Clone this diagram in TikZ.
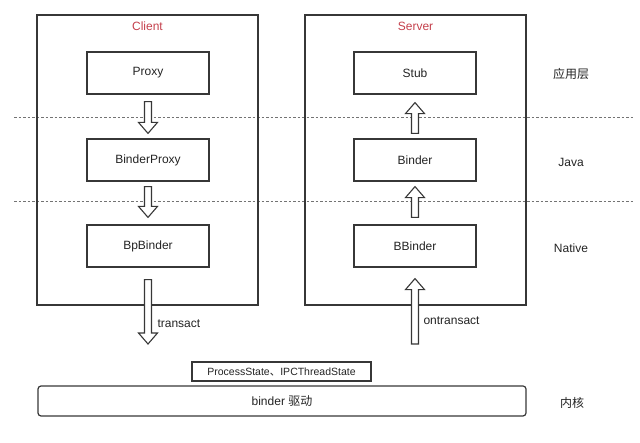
\documentclass[tikz,border=0pt]{standalone}
\usepackage{fontspec}
\setmainfont{Liberation Sans}
\newfontfamily\cjk{Noto Sans CJK SC}
\usetikzlibrary{calc}

\definecolor{linegray}{RGB}{55,55,55}
\definecolor{textgray}{RGB}{35,35,35}
\definecolor{labelred}{RGB}{196,64,76}

\begin{document}
\begin{tikzpicture}[
            x=1pt, y=-1pt,
            every node/.style={text=textgray, font=\fontsize{12}{14}\selectfont},
            outerbox/.style={draw=linegray, line width=1.2pt, minimum width=221pt, minimum height=290pt},
            layerbox/.style={draw=linegray, line width=1.2pt, minimum width=122pt, minimum height=42pt},
            hollow/.style={draw=linegray, fill=white, line width=1.1pt, line join=miter},
            layerline/.style={draw=black!55, line width=1pt, dash pattern=on 2.5pt off 2pt}
        ]
            \useasboundingbox (0, 0) rectangle (640, 443);

            % tail, tip
            \newcommand*{\blockarrow}[2]{
                \draw[hollow] let \p1=(#1), \p2=(#2), \n1={11*sign(\y2-\y1)} in
                    (\x1-3.5pt, \y1) -- (\x1-3.5pt, \y2-\n1) -- (\x1-9.5pt, \y2-\n1)
                    -- (\x2, \y2)
                    -- (\x1+9.5pt, \y2-\n1) -- (\x1+3.5pt, \y2-\n1) -- (\x1+3.5pt, \y1) -- cycle;
            }

            \foreach \y in {118, 202} {
                \draw[layerline] (14, \y) -- (633, \y);
            }

            \node[outerbox] (client) at (147.5, 160) {};
            \node[outerbox] (server) at (415.5, 160) {};
            \node[text=labelred] (clientlabel) at (147.5, 26) {Client};
            \node[text=labelred] (serverlabel) at (415.5, 26) {Server};

            \node[layerbox] (proxy) at (148, 73) {Proxy};
            \node[layerbox] (binderproxy) at (148, 160) {BinderProxy};
            \node[layerbox] (bpbinder) at (148, 246) {BpBinder};

            \node[layerbox] (stub) at (415, 73) {Stub};
            \node[layerbox] (binder) at (415, 160) {Binder};
            \node[layerbox] (bbinder) at (415, 246) {BBinder};

            \coordinate (transactend) at (148, 344);
            \coordinate (ontransactstart) at (415, 344);

            \blockarrow{$(proxy.south)+(0, 7)$}{$(binderproxy.north)+(0, -5)$}
            \blockarrow{$(binderproxy.south)+(0, 5)$}{$(bpbinder.north)+(0, -7)$}
            \blockarrow{$(binder.north)+(0, -5)$}{$(stub.south)+(0, 8)$}
            \blockarrow{$(bbinder.north)+(0, -7)$}{$(binder.south)+(0, 5)$}
            \blockarrow{$(bpbinder.south)+(0, 12)$}{transactend}
            \blockarrow{ontransactstart}{$(bbinder.south)+(0, 11)$}

            \node[anchor=west] (transact) at (154, 324) {transact};
            \node[anchor=west] (ontransact) at (420, 321) {ontransact};

            \node[draw=linegray, line width=1.4pt, minimum width=179pt, minimum height=19pt,
                font=\fontsize{10.5}{12}\selectfont] (ipc) at (281.5, 371.5)
                {ProcessState{\cjk 、}IPCThreadState};
            \node[draw=linegray, line width=1.2pt, rounded corners=3pt,
                minimum width=488pt, minimum height=30pt] (driver) at (282, 401)
                {binder {\cjk 驱动}};

            \node (app) at (571, 74) {\cjk 应用层};
            \node (java) at (571, 162) {Java};
            \node (native) at (571, 248) {Native};
            \node (kernel) at (572, 403) {\cjk 内核};
        \end{tikzpicture}
\end{document}
